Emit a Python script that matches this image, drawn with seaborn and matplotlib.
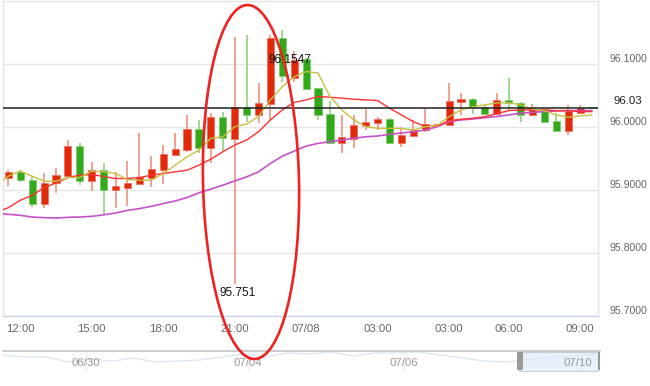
import numpy as np
import pandas as pd
import matplotlib
matplotlib.use("Agg")
import matplotlib.pyplot as plt
import seaborn as sns
from matplotlib.patches import Ellipse, Rectangle
from matplotlib.transforms import IdentityTransform

# Velas (30 min)
opens = [95.9198, 95.9288, 95.9155, 95.8784, 95.9108, 95.9219, 95.9697, 95.9144, 95.9315, 95.8996,
         95.9039, 95.9103, 95.9198, 95.9315, 95.9554, 95.9633, 95.9963, 95.9670, 96.0164, 95.9809,
         96.0323, 96.0191, 96.0367, 96.1414, 96.0776, 96.1079, 96.0617, 96.0202, 95.9750, 95.9814,
         96.0016, 96.0069, 96.0123, 95.9740, 95.9861, 95.9952, 96.0032, 96.0032, 96.0394, 96.0446,
         96.0323, 96.0207, 96.0430, 96.0387, 96.0191, 96.0282, 96.0096, 95.9941, 96.0228, 96.0310]
closes = [95.9288, 95.9151, 95.8784, 95.9112, 95.9235, 95.9697, 95.9144, 95.9315, 95.8996, 95.9060,
          95.9112, 95.9208, 95.9335, 95.9565, 95.9649, 95.9963, 95.9673, 96.0164, 95.9820, 96.0323,
          96.0191, 96.0378, 96.1414, 96.0802, 96.1068, 96.0606, 96.0191, 95.9750, 95.9836, 96.0027,
          96.0080, 96.0123, 95.9750, 95.9873, 95.9952, 96.0048, 96.0053, 96.0414, 96.0446, 96.0314,
          96.0207, 96.0430, 96.0378, 96.0191, 96.0298, 96.0084, 95.9941, 96.0260, 96.0298, 96.0300]
highs = [95.9315, 95.9315, 95.9203, 95.9267, 95.9347, 95.9793, 95.9745, 95.9447, 95.9431, 95.9288,
         95.9458, 95.9904, 95.9543, 95.9713, 95.9909, 96.0191, 96.0112, 96.0228, 96.0239, 96.1429,
         96.1466, 96.0696, 96.1466, 96.1547, 96.1200, 96.1095, 96.0620, 96.0419, 96.0191, 96.0191,
         96.0282, 96.0155, 96.0143, 96.0005, 96.0112, 96.0298, 96.0055, 96.0696, 96.0547, 96.0467,
         96.0367, 96.0537, 96.0776, 96.0390, 96.0362, 96.0285, 96.0218, 96.0351, 96.0351, 96.0315]
lows = [95.9060, 95.9130, 95.8730, 95.8709, 95.8948, 95.9215, 95.9076, 95.8985, 95.8614, 95.8709,
        95.8746, 95.9092, 95.9049, 95.9092, 95.9550, 95.9606, 95.9586, 95.9431, 95.9622, 95.7510,
        96.0084, 96.0059, 96.0112, 96.0722, 96.0722, 96.0590, 96.0112, 95.9745, 95.9581, 95.9661,
        95.9952, 95.9952, 95.9737, 95.9676, 95.9845, 95.9925, 96.0030, 96.0030, 96.0191, 96.0202,
        96.0199, 96.0205, 96.0271, 96.0084, 96.0175, 96.0072, 95.9938, 95.9873, 96.0218, 96.0300]

# Medias moviles (primer valor = vela anterior, fuera de la vista)
ma_amarilla = [95.9076, 95.9219, 95.9299, 95.9219, 95.9139, 95.9139, 95.9198, 95.9198, 95.9299, 95.9291,
               95.9262, 95.9167, 95.9155, 95.9155, 95.9262, 95.9394, 95.9527, 95.9633, 95.9820, 95.9845,
               96.0005, 96.0048, 96.0164, 96.0430, 96.0642, 96.0797, 96.0881, 96.0856, 96.0483, 96.0271,
               96.0112, 96.0005, 95.9979, 95.9979, 95.9979, 95.9952, 96.0005, 96.0021, 96.0164, 96.0271,
               96.0323, 96.0351, 96.0382, 96.0387, 96.0351, 96.0282, 96.0260, 96.0191, 96.0155, 96.0175,
               96.0191]
ma_roja = [95.8645, 95.8720, 95.8837, 95.8916, 95.9039, 95.9112, 95.9198, 95.9235, 95.9246, 95.9214,
           95.9182, 95.9182, 95.9198, 95.9235, 95.9262, 95.9288, 95.9315, 95.9394, 95.9490, 95.9606,
           95.9713, 95.9793, 95.9925, 96.0112, 96.0271, 96.0390, 96.0430, 96.0483, 96.0473, 96.0457,
           96.0441, 96.0430, 96.0419, 96.0298, 96.0191, 96.0084, 96.0005, 96.0016, 96.0100, 96.0123,
           96.0139, 96.0164, 96.0212, 96.0260, 96.0271, 96.0271, 96.0271, 96.0260, 96.0260, 96.0244,
           96.0244]
ma_morada = [95.8630, 95.8614, 95.8598, 95.8571, 95.8561, 95.8555, 95.8566, 95.8571, 95.8582, 95.8606,
             95.8634, 95.8677, 95.8704, 95.8741, 95.8784, 95.8826, 95.8880, 95.8956, 95.9015, 95.9076,
             95.9144, 95.9208, 95.9288, 95.9422, 95.9538, 95.9618, 95.9697, 95.9740, 95.9766, 95.9793,
             95.9820, 95.9845, 95.9857, 95.9884, 95.9904, 95.9925, 95.9952, 96.0005, 96.0084, 96.0112,
             96.0127, 96.0148, 96.0167, 96.0191, 96.0218, 96.0234, 96.0244, 96.0255, 96.0260, 96.0260,
             96.0260]

precio_actual = 96.03
etiquetas_x = ['12:00', '15:00', '18:00', '21:00', '07/08', '03:00', '03:00', '06:00', '09:00']
pos_etiquetas_x = [1, 7, 13, 19, 25, 31, 37, 42, 48]
ticks_y = [95.7, 95.8, 95.9, 96.0, 96.1]

# Navegador (vista general)
nav_valores = [95.85, 95.75, 95.75, 95.5, 95.65, 95.55, 95.7, 95.5, 95.55, 95.6, 95.75, 95.9, 95.75, 95.95,
               95.9, 96.0, 95.8, 95.95, 95.95, 96.0, 95.85, 95.7, 95.55, 95.5, 95.6, 95.75, 95.8, 95.85]
nav_etiquetas = ['06/30', '07/04', '07/06', '07/10']

ROJO = '#e02a0a'
VERDE = '#33a81a'

sns.set_theme(style="white")
plt.rcParams['font.family'] = ['Liberation Sans', 'DejaVu Sans']

fig = plt.figure(figsize=(6.5, 3.86), dpi=100)
ax = fig.add_axes([3 / 650, 1 - 316 / 386, 595 / 650, 315 / 386])

df = pd.DataFrame({'open': opens, 'close': closes, 'high': highs, 'low': lows})
df['x'] = np.arange(len(df))
df['sube'] = df['close'] >= df['open']
colores = np.where(df['sube'], ROJO, VERDE)
mechas = np.where(df['sube'], '#f09a8a', '#9ad68a')

ax.vlines(df['x'], df['low'], df['high'], colors=mechas, linewidth=1.3, zorder=2)
cuerpo = (df['close'] - df['open']).abs().clip(lower=0.0006)
base = df[['open', 'close']].min(axis=1)
ax.bar(df['x'], cuerpo, bottom=base, width=0.6, color=colores,
       edgecolor=np.where(df['sube'], '#f07060', '#80cc70'), linewidth=0.6, zorder=3)

# medias moviles
ma = pd.DataFrame({'x': np.arange(-1, len(ma_roja) - 1),
                   'amarilla': ma_amarilla, 'roja': ma_roja, 'morada': ma_morada})
sns.lineplot(data=ma, x='x', y='morada', color='#c452c8', linewidth=1.2, ax=ax, zorder=4)
sns.lineplot(data=ma, x='x', y='roja', color='#ff3030', linewidth=1.0, ax=ax, zorder=4)
sns.lineplot(data=ma, x='x', y='amarilla', color='#c8c040', linewidth=1.0, ax=ax, zorder=4)

ax.axhline(precio_actual, color='#222222', linewidth=1.1, zorder=5)

ax.set_xlim(-0.45, 49.5)
ax.set_ylim(95.7, 96.2)
ax.set_xlabel('')
ax.set_ylabel('')
ax.set_xticks(pos_etiquetas_x)
ax.set_xticklabels(etiquetas_x)
ax.set_yticks(ticks_y)
ax.set_yticklabels([f'{v:.4f}' for v in ticks_y])
ax.yaxis.tick_right()
ax.grid(axis='y', color='#e6e6e6', linewidth=1)
ax.grid(axis='x', visible=False)
ax.tick_params(axis='x', direction='in', length=7, width=1, color='#ccd6eb',
               labelsize=8.2, labelcolor='#666666', pad=6)
ax.tick_params(axis='y', length=0, labelsize=7.6, labelcolor='#666666', pad=8)
for lab in ax.get_yticklabels():
    lab.set_va('bottom')
for lado, sp in ax.spines.items():
    sp.set_color('#e3e3e3')
    sp.set_linewidth(1)
ax.spines['bottom'].set_color('#ccd6eb')

# etiqueta precio actual
ax.annotate(f'{precio_actual:.2f}', xy=(1, precio_actual), xycoords=('axes fraction', 'data'),
            xytext=(15, 2), textcoords='offset pixels', va='bottom', ha='left',
            fontsize=8.2, color='#222222', annotation_clip=False)

# maximo y minimo
i_max = int(np.argmax(highs))
i_min = int(np.argmin(lows))
ax.annotate(f'{highs[i_max]:.4f}', xy=(i_max, highs[i_max]), xytext=(8, -30),
            textcoords='offset pixels', ha='center', va='center', fontsize=8.5, color='#111111', zorder=6)
ax.annotate(f'{lows[i_min]:.3f}', xy=(i_min, lows[i_min]), xytext=(3, -9),
            textcoords='offset pixels', ha='center', va='center', fontsize=8.5, color='#111111', zorder=6)

# navegador
nav = fig.add_axes([3 / 650, 1 - 372 / 386, 597 / 650, 21 / 386])
nav_x = np.arange(len(nav_valores))
sns.lineplot(x=nav_x, y=nav_valores, color='#dce7f6', linewidth=1, ax=nav)
nav.set_xlim(0, 27.3)
nav.set_ylim(95.0, 96.05)
nav.set_xticks([])
nav.set_yticks([])
nav.set_xlabel('')
nav.set_ylabel('')
for lado, sp in nav.spines.items():
    sp.set_visible(False)
nav.spines['top'].set_visible(True)
nav.spines['top'].set_color('#c4c4c4')
nav.spines['top'].set_linewidth(1.2)
for pos, txt in zip([3.8, 11.2, 18.35, 26.27], nav_etiquetas):
    nav.axvline(pos, color='#eeeeee', linewidth=1, zorder=0)
    nav.text(pos, 0.45, txt, transform=nav.get_xaxis_transform(), ha='center', va='center',
             fontsize=8.2, color='#999999')
nav.axvspan(23.6, 27.2, color='#e3edf9', alpha=0.8, zorder=0)
nav.add_patch(Rectangle((23.6, 0.05), 3.6, 0.9, transform=nav.get_xaxis_transform(),
                        fill=False, edgecolor='#cccccc', linewidth=0.8))
for hx in [23.5, 27.2]:
    nav.add_patch(Rectangle((hx, 0.15), 0.25, 0.8, transform=nav.get_xaxis_transform(),
                            facecolor='#999999', edgecolor='#888888', linewidth=0.5, zorder=5))

# circulo rojo dibujado a mano
fig.add_artist(Ellipse((251, 386 - 182), 96, 354, angle=1.2, transform=IdentityTransform(),
                       fill=False, edgecolor='#ee2222', linewidth=1.9, zorder=10))

fig.savefig('out.png', dpi=100)
plt.close(fig)
